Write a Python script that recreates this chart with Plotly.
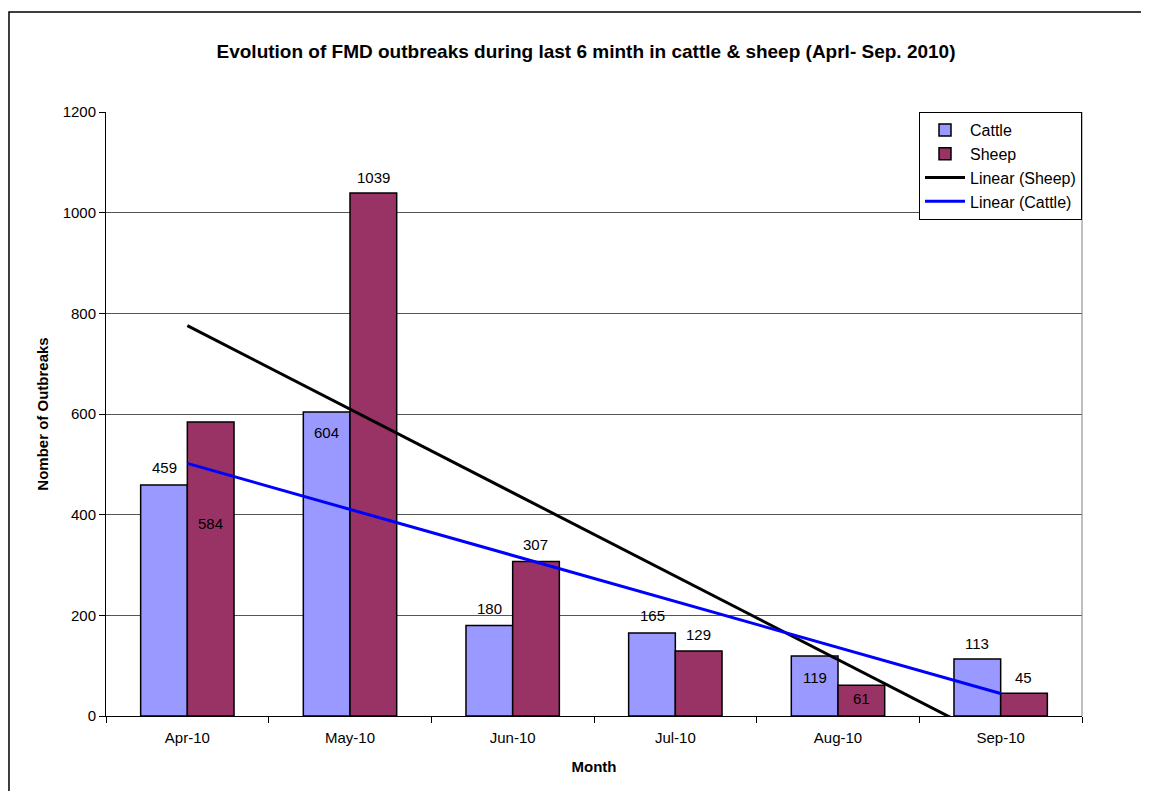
import numpy as np
import plotly.graph_objects as go

months = ["Apr-10", "May-10", "Jun-10", "Jul-10", "Aug-10", "Sep-10"]
cattle = [459, 604, 180, 165, 119, 113]
sheep = [584, 1039, 307, 129, 61, 45]

# label offsets in px (positive = above bar top), as placed in the original
cattle_lbl_shift = [17, -21, 17, 17, -21, 16]
sheep_lbl_shift = [-101, 16, 17, 17, -13, 16]

FONT = "Liberation Sans, Arial, sans-serif"

# Excel style linear trend lines
idx = np.arange(1, len(months) + 1)
k_s, b_s = np.polyfit(idx, sheep, 1)
k_c, b_c = np.polyfit(idx, cattle, 1)
trend_sheep = k_s * idx + b_s
trend_cattle = k_c * idx + b_c

fig = go.Figure()
fig.add_trace(go.Bar(
    name="Cattle", x=months, y=cattle,
    marker=dict(color="#9999FF", line=dict(color="black", width=1.5)),
))
fig.add_trace(go.Bar(
    name="Sheep", x=months, y=sheep,
    marker=dict(color="#993366", line=dict(color="black", width=1.5)),
))
fig.add_trace(go.Scatter(
    name="Linear (Sheep)", x=months, y=trend_sheep, mode="lines",
    line=dict(color="black", width=3),
))
fig.add_trace(go.Scatter(
    name="Linear (Cattle)", x=months, y=trend_cattle, mode="lines",
    line=dict(color="#0000FF", width=3),
))

bar_half = 23.3
for m, v, s in zip(months, cattle, cattle_lbl_shift):
    fig.add_annotation(x=m, y=v, text=str(v), showarrow=False,
                       xshift=-bar_half, yshift=s,
                       font=dict(size=15, color="black", family=FONT))
for m, v, s in zip(months, sheep, sheep_lbl_shift):
    fig.add_annotation(x=m, y=v, text=str(v), showarrow=False,
                       xshift=bar_half, yshift=s,
                       font=dict(size=15, color="black", family=FONT))

# outer chart frame
fig.add_shape(type="rect", xref="paper", yref="paper",
              x0=-0.0994, x1=1.2, y0=-0.3, y1=1.1656,
              line=dict(color="black", width=1.5), layer="below")

fig.update_layout(
    width=1141, height=783,
    margin=dict(l=98, r=67, t=104, b=75),
    paper_bgcolor="white", plot_bgcolor="white",
    font=dict(family=FONT, size=15, color="black"),
    barmode="group", bargap=0.426, bargroupgap=0,
    title=dict(
        text="<b>Evolution of FMD outbreaks during last 6 minth in cattle & sheep (Aprl- Sep. 2010)</b>",
        x=0.5066, xanchor="center", y=0.944, yanchor="middle",
        font=dict(size=19, family=FONT),
    ),
    legend=dict(
        x=1, xanchor="right", y=1.0, yanchor="top",
        bgcolor="white", bordercolor="black", borderwidth=1,
        font=dict(size=16, family=FONT),
        traceorder="normal", tracegroupgap=0, itemwidth=40,
    ),
    showlegend=True,
)

fig.update_xaxes(
    showline=True, linecolor="black", linewidth=1,
    ticks="outside", ticklen=6, tickcolor="black",
    tickson="boundaries", ticklabelstandoff=8,
    title=dict(text="<b>Month</b>", font=dict(size=15, family=FONT), standoff=16),
    tickfont=dict(size=15),
)
fig.update_yaxes(
    range=[0, 1200], dtick=200,
    showline=True, linecolor="black", linewidth=1,
    ticks="outside", ticklen=6, tickcolor="black",
    showgrid=True, gridcolor="#555555", gridwidth=1,
    zeroline=False,
    title=dict(text="<b>Nomber of Outbreaks</b>", font=dict(size=15, family=FONT), standoff=10),
    tickfont=dict(size=15),
)
# right border of plot area
fig.add_shape(type="line", xref="paper", yref="paper", x0=1, x1=1, y0=0, y1=1,
              line=dict(color="#808080", width=1))

fig.write_html("out.html")
